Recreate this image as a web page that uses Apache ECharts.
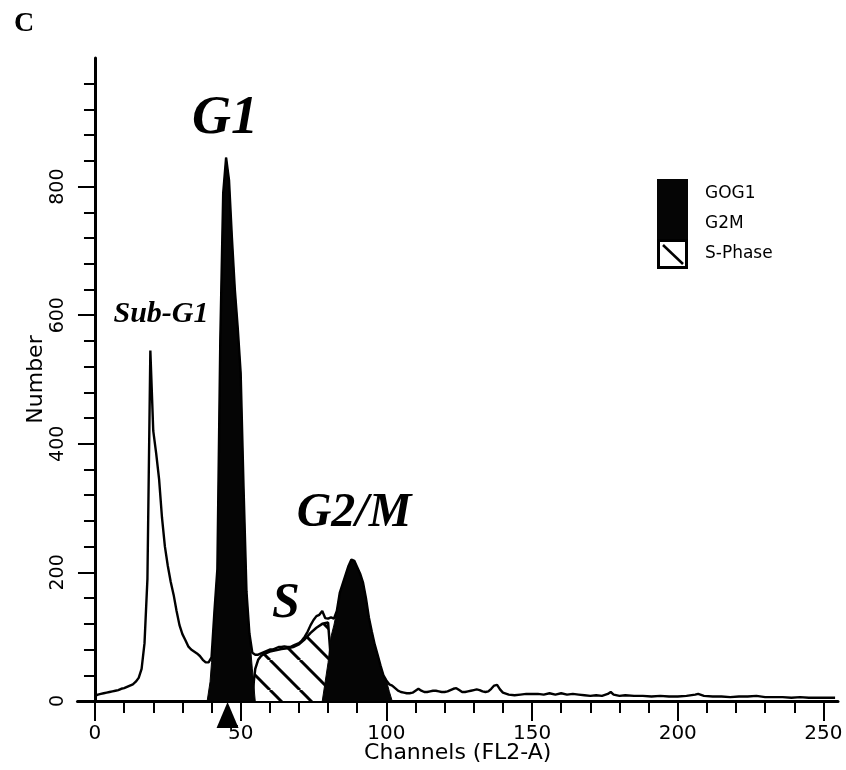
<!DOCTYPE html>
<html>
<head>
<meta charset="utf-8">
<script src="https://cdn.jsdelivr.net/npm/echarts@6/dist/echarts.min.js"></script>
<style>
  html, body { margin: 0; background: #fff; }
  #chart { width: 846px; height: 770px; }
</style>
</head>
<body>
<div id="chart"></div>
<script>
// measured histogram (channel -> number of events)
const channels = Array.from({ length: 141 }, (_, i) => i).concat([
  142, 144, 146, 148, 150, 152, 154, 156, 158, 160, 162, 164, 166, 168, 170,
  172, 174, 176, 177, 178, 180, 182, 185, 188, 191, 194, 197, 200, 203, 206,
  207, 209, 212, 215, 218, 221, 224, 227, 230, 233, 236, 239, 242, 245, 248,
  251, 254
]);
const counts = [
  8, 10, 11, 12, 13, 14, 15, 16, 17, 19,
  20, 22, 24, 26, 30, 36, 50, 90, 190, 545,
  420, 385, 345, 285, 240, 210, 185, 165, 140, 118,
  104, 95, 85, 80, 77, 74, 70, 64, 60, 60,
  68, 140, 205, 560, 790, 845, 810, 720, 640, 580,
  510, 330, 170, 105, 75, 72, 72, 74, 76, 78,
  80, 80, 82, 84, 84, 85, 84, 84, 86, 88,
  90, 94, 100, 108, 118, 126, 132, 134, 140, 129,
  128, 130, 128, 140, 168, 182, 196, 210, 220, 218,
  208, 198, 184, 160, 130, 108, 88, 72, 55, 40,
  32, 26, 24, 20, 16, 14, 13, 12, 12, 13,
  16, 19, 16, 14, 14, 15, 16, 16, 15, 14,
  14, 15, 17, 19, 20, 17, 14, 14, 15, 16,
  17, 18, 17, 15, 14, 15, 19, 24, 25, 18, 13,
  10, 9, 10, 11, 11, 11, 10, 12, 10, 12, 10, 11, 10, 9, 8,
  9, 8, 11, 14, 10, 8, 9, 8, 8, 7, 8, 7, 7, 8, 10,
  11, 8, 7, 7, 6, 7, 7, 8, 6, 6, 6, 5, 6, 5, 5,
  5, 5
];

// model components
const g0g1Channels = [38.5, 39.5, 40, 41, 42, 43, 44, 45, 46, 47, 48, 49, 50, 51, 52, 53, 54, 55];
const g0g1Counts = [0, 30, 60, 140, 205, 560, 790, 845, 810, 720, 640, 580, 510, 330, 170, 105, 50, 0];

const sPhaseChannels = [54, 54.5, 55, 56, 57, 58, 60, 62, 64, 66, 68, 70, 72, 74, 76, 78, 80, 80.7, 81];
const sPhaseCounts = [0, 30, 50, 64, 70, 73, 77, 79, 81, 82, 84, 88, 96, 106, 114, 120, 122, 80, 0];

const g2mChannels = [78, 80, 81, 82, 83, 84, 85, 86, 87, 88, 89, 90, 91, 92, 93, 94, 95, 96, 97, 98, 99, 100, 101, 102];
const g2mCounts = [0, 60, 100, 118, 140, 168, 182, 196, 210, 220, 218, 208, 198, 184, 160, 130, 108, 88, 72, 55, 40, 32, 15, 0];

const g1Mean = 45.5;

const xLabels = [0, 50, 100, 150, 200, 250];
const xTicks = [0, 10, 20, 30, 40, 50, 60, 70, 80, 90, 100, 110, 120, 130, 140, 150, 160, 170, 180, 190, 200, 210, 220, 230, 240, 250];
const yLabels = [0, 200, 400, 600, 800];
const yTicks = [0, 40, 80, 120, 160, 200, 240, 280, 320, 360, 400, 440, 480, 520, 560, 600, 640, 680, 720, 760, 800, 840, 880, 920, 960];

const legendNames = ['GOG1', 'G2M', 'S-Phase'];

const zip = (xs, ys) => xs.map((x, i) => [x, ys[i]]);

// diagonal hatch for the S-phase area
const hatch = document.createElement('canvas');
hatch.width = hatch.height = 30;
(function () {
  const c = hatch.getContext('2d');
  c.fillStyle = '#fff';
  c.fillRect(0, 0, 30, 30);
  c.strokeStyle = '#000';
  c.lineWidth = 3;
  [-1, 0, 1].forEach(k => {
    c.beginPath();
    c.moveTo(k * 30, 0);
    c.lineTo(k * 30 + 30, 30);
    c.stroke();
  });
})();

function legendIcon(hatched) {
  const cv = document.createElement('canvas');
  cv.width = 43;
  cv.height = 30;
  const c = cv.getContext('2d');
  if (hatched) {
    c.fillStyle = '#fff';
    c.fillRect(0, 0, 31, 30);
    c.strokeStyle = '#000';
    c.lineWidth = 3;
    c.strokeRect(1.5, 1.5, 28, 27);
    c.lineWidth = 2.5;
    c.beginPath();
    c.moveTo(6, 6);
    c.lineTo(26, 25);
    c.stroke();
  } else {
    c.fillStyle = '#050505';
    c.fillRect(0, 0, 31, 30);
  }
  return 'image://' + cv.toDataURL();
}

const labelFont = '"DejaVu Sans", sans-serif';
const serif = '"Liberation Serif", "DejaVu Serif", serif';

const chart = echarts.init(document.getElementById('chart'));
chart.setOption({
  backgroundColor: '#fff',
  animation: false,
  grid: { left: 77.5, right: 8, top: 58, bottom: 69 },
  legend: {
    orient: 'vertical',
    left: 657,
    top: 179,
    itemWidth: 43,
    itemHeight: 30,
    itemGap: 0,
    padding: 0,
    textStyle: { fontFamily: labelFont, fontSize: 17, color: '#000' },
    data: [
      { name: legendNames[0], icon: legendIcon(false) },
      { name: legendNames[1], icon: legendIcon(false) },
      { name: legendNames[2], icon: legendIcon(true) }
    ]
  },
  xAxis: [
    {
      type: 'value',
      min: -6,
      max: 255,
      position: 'bottom',
      name: 'Channels (FL2-A)',
      nameLocation: 'middle',
      nameGap: 41,
      nameMoveOverlap: false,
      nameTextStyle: { fontFamily: labelFont, fontSize: 22, color: '#000' },
      axisLine: { onZero: false, lineStyle: { color: '#000', width: 3 } },
      axisTick: { customValues: xTicks, length: 12, lineStyle: { color: '#000', width: 2 } },
      axisLabel: { customValues: xLabels, margin: 23, fontFamily: labelFont, fontSize: 20, color: '#000' },
      splitLine: { show: false }
    },
    {
      type: 'value',
      min: -6,
      max: 255,
      position: 'bottom',
      axisLine: { show: false, onZero: false },
      axisTick: { customValues: xLabels, length: 20, lineStyle: { color: '#000', width: 2 } },
      axisLabel: { show: false },
      splitLine: { show: false }
    }
  ],
  yAxis: [
    {
      type: 'value',
      min: 0,
      max: 1000,
      position: 'left',
      name: 'Number',
      nameLocation: 'middle',
      nameGap: 30,
      nameMoveOverlap: false,
      nameTextStyle: { fontFamily: labelFont, fontSize: 22, color: '#000' },
      axisLine: { onZero: true, lineStyle: { color: '#000', width: 3 } },
      axisTick: { customValues: yTicks, length: 11, lineStyle: { color: '#000', width: 2 } },
      axisLabel: { customValues: yLabels, rotate: 90, margin: 10, fontFamily: labelFont, fontSize: 19, color: '#000' },
      splitLine: { show: false }
    },
    {
      type: 'value',
      min: 0,
      max: 1000,
      position: 'left',
      axisLine: { show: false, onZero: true },
      axisTick: { customValues: yLabels, length: 17, lineStyle: { color: '#000', width: 2 } },
      axisLabel: { show: false },
      splitLine: { show: false }
    }
  ],
  series: [
    {
      name: 'S-Phase',
      type: 'line',
      z: 2,
      data: zip(sPhaseChannels, sPhaseCounts),
      showSymbol: false,
      lineStyle: { color: '#000', width: 2.5 },
      itemStyle: { color: '#000' },
      areaStyle: { color: { image: hatch, repeat: 'repeat' }, opacity: 1 }
    },
    {
      name: 'GOG1',
      type: 'line',
      z: 3,
      data: zip(g0g1Channels, g0g1Counts),
      showSymbol: false,
      lineStyle: { color: '#050505', width: 1 },
      itemStyle: { color: '#050505' },
      areaStyle: { color: '#050505', opacity: 1 },
      markPoint: {
        symbol: 'triangle',
        symbolSize: [22, 26],
        symbolOffset: [0, 14],
        itemStyle: { color: '#000' },
        label: { show: false },
        data: [{ coord: [g1Mean, 0] }]
      }
    },
    {
      name: 'G2M',
      type: 'line',
      z: 3,
      data: zip(g2mChannels, g2mCounts),
      showSymbol: false,
      lineStyle: { color: '#050505', width: 1 },
      itemStyle: { color: '#050505' },
      areaStyle: { color: '#050505', opacity: 1 }
    },
    {
      name: 'data',
      type: 'line',
      z: 5,
      data: zip(channels, counts),
      showSymbol: false,
      lineStyle: { color: '#000', width: 2.4 },
      itemStyle: { color: '#000' }
    }
  ],
  graphic: [
    { type: 'text', x: 14, y: 10, style: { text: 'C', font: 'bold 28px ' + serif, fill: '#000' } },
    { type: 'text', x: 225, y: 119, style: { text: 'G1', font: 'italic bold 54px ' + serif, fill: '#000', align: 'center', verticalAlign: 'middle' } },
    { type: 'text', x: 161, y: 314, style: { text: 'Sub-G1', font: 'italic bold 30px ' + serif, fill: '#000', align: 'center', verticalAlign: 'middle' } },
    { type: 'text', x: 354, y: 514, style: { text: 'G2/M', font: 'italic bold 48px ' + serif, fill: '#000', align: 'center', verticalAlign: 'middle' } },
    { type: 'text', x: 286, y: 604, style: { text: 'S', font: 'italic bold 50px ' + serif, fill: '#000', align: 'center', verticalAlign: 'middle' } }
  ]
});
</script>
</body>
</html>
